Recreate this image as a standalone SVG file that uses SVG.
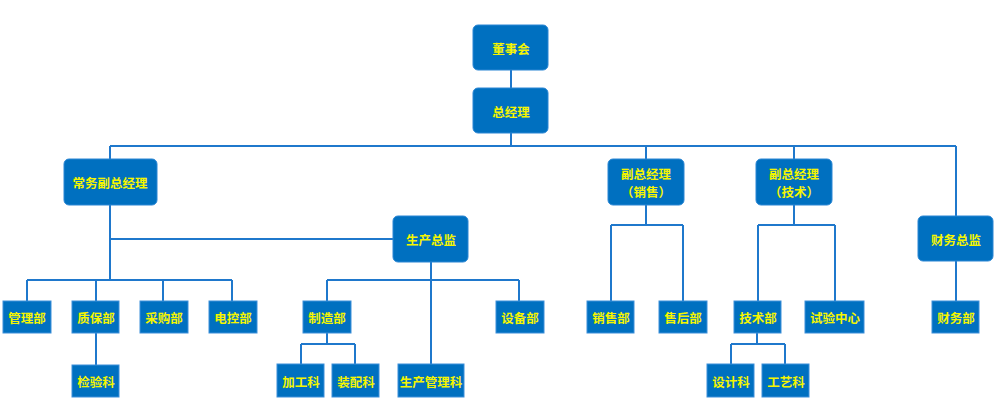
<svg xmlns="http://www.w3.org/2000/svg" width="1000" height="411" viewBox="0 0 1000 411">
<style>
.r{fill:#0070C0;stroke:#2A86D4;stroke-width:1}
.s{fill:#0070C0;stroke:#3C8FDA;stroke-width:1}
.t{fill:#F5F500;font-family:"Noto Sans CJK SC","Liberation Sans",sans-serif;font-size:12.5px;font-weight:bold;text-anchor:middle;dominant-baseline:central}
.c{fill:none;stroke:#1F78CC;stroke-width:2}
</style>
<rect width="1000" height="411" fill="#fff"/>
<g id="connectors" class="c">
<path d="M511 70V88M511 133V146M110 146H956M110 146V159M646 146V159M794 146V159M956 146V216"/>
<path d="M110 205V280M110 239H393M27 280H232M27 280V301M96 280V301M163 280V301M232 280V301M96 333V365"/>
<path d="M431 262V364M327 280H519M327 280V301M519 280V301M327 333V344M301 344H355M301 344V364M355 344V364"/>
<path d="M646 205V225M611 225H683M611 225V301M683 225V301"/>
<path d="M794 205V225M758 225H835M758 225V301M835 225V301M757 333V344M731 344H785M731 344V364M785 344V364"/>
<path d="M956 261V301"/>
</g>
<g id="n_dongshihui"><rect class="r" x="473" y="25" width="75" height="45" rx="5"/><text class="t" x="511" y="48">董事会</text></g>
<g id="n_zongjingli"><rect class="r" x="473" y="88" width="75" height="45" rx="5"/><text class="t" x="511" y="111">总经理</text></g>
<g id="n_changwu"><rect class="r" x="64" y="159" width="93" height="46" rx="5"/><text class="t" x="110" y="182">常务副总经理</text></g>
<g id="n_fzxs"><rect class="r" x="608" y="159" width="76" height="46" rx="5"/><text class="t" x="646" y="173">副总经理</text><text class="t" x="646" y="191">（销售）</text></g>
<g id="n_fzjs"><rect class="r" x="756" y="159" width="76" height="46" rx="5"/><text class="t" x="794" y="173">副总经理</text><text class="t" x="794" y="191">（技术）</text></g>
<g id="n_scdj"><rect class="r" x="393" y="216" width="75" height="46" rx="5"/><text class="t" x="431" y="239">生产总监</text></g>
<g id="n_cwzj"><rect class="r" x="918" y="216" width="75" height="45" rx="5"/><text class="t" x="956" y="239">财务总监</text></g>
<g id="n_glb"><rect class="s" x="3" y="301" width="48" height="32"/><text class="t" x="27" y="317">管理部</text></g>
<g id="n_zbb"><rect class="s" x="72" y="301" width="47" height="32"/><text class="t" x="96" y="317">质保部</text></g>
<g id="n_cgb"><rect class="s" x="140" y="301" width="48" height="32"/><text class="t" x="164" y="317">采购部</text></g>
<g id="n_dkb"><rect class="s" x="209" y="301" width="48" height="32"/><text class="t" x="233" y="317">电控部</text></g>
<g id="n_jyk"><rect class="s" x="72" y="365" width="47" height="32"/><text class="t" x="96" y="381">检验科</text></g>
<g id="n_zzb"><rect class="s" x="303" y="301" width="48" height="32"/><text class="t" x="327" y="317">制造部</text></g>
<g id="n_sbb"><rect class="s" x="496" y="301" width="48" height="32"/><text class="t" x="520" y="317">设备部</text></g>
<g id="n_jgk"><rect class="s" x="277" y="364" width="47" height="33"/><text class="t" x="301" y="381">加工科</text></g>
<g id="n_zpk"><rect class="s" x="332" y="364" width="47" height="33"/><text class="t" x="356" y="381">装配科</text></g>
<g id="n_scglk"><rect class="s" x="398" y="364" width="66" height="33"/><text class="t" x="431" y="381">生产管理科</text></g>
<g id="n_xsb"><rect class="s" x="587" y="301" width="47" height="32"/><text class="t" x="611" y="317">销售部</text></g>
<g id="n_shb"><rect class="s" x="659" y="301" width="48" height="32"/><text class="t" x="683" y="317">售后部</text></g>
<g id="n_jsb"><rect class="s" x="734" y="301" width="47" height="32"/><text class="t" x="758" y="317">技术部</text></g>
<g id="n_syzx"><rect class="s" x="805" y="301" width="59" height="32"/><text class="t" x="835" y="317">试验中心</text></g>
<g id="n_sjk"><rect class="s" x="707" y="364" width="47" height="33"/><text class="t" x="731" y="381">设计科</text></g>
<g id="n_gyk"><rect class="s" x="762" y="364" width="47" height="33"/><text class="t" x="786" y="381">工艺科</text></g>
<g id="n_cwb"><rect class="s" x="932" y="301" width="47" height="32"/><text class="t" x="956" y="317">财务部</text></g>
</svg>
